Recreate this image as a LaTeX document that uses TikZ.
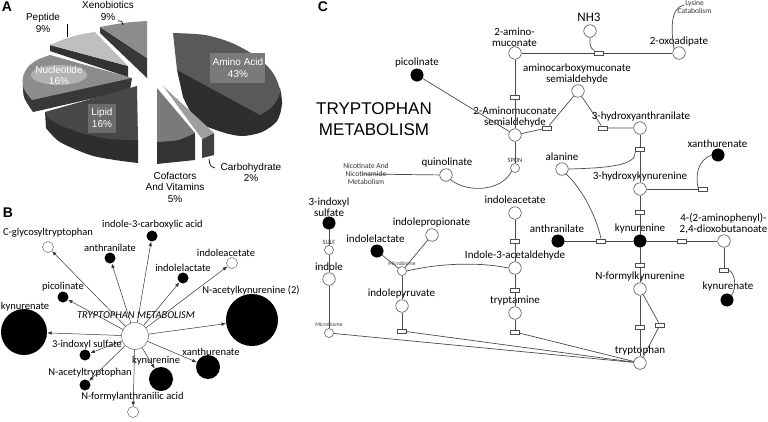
\documentclass[tikz,border=0pt]{standalone}
\usepackage{fontspec}
\setmainfont{Liberation Sans}
\newfontfamily\carlito{Carlito}
\usetikzlibrary{arrows.meta}
\begin{document}
\begin{tikzpicture}[x=1pt,y=1pt,
  oc/.style={circle,draw=black!70,fill=white,line width=0.6pt,minimum size=12.5pt,inner sep=0pt},
  fc/.style={circle,draw=black,fill=black,minimum size=12.5pt,inner sep=0pt},
  sc/.style={circle,draw=black!70,fill=white,line width=0.5pt,minimum size=9pt,inner sep=0pt},
  rx/.style={rectangle,draw=black!70,fill=white,line width=0.5pt,minimum width=9pt,minimum height=4.5pt,inner sep=0pt},
  ln/.style={draw=black!70,line width=0.7pt},
  lab/.style={font=\carlito\fontsize{11}{11}\selectfont,inner sep=0pt,align=center},
  tny/.style={font=\carlito\fontsize{5.5}{6}\selectfont,inner sep=0pt,align=center,text=black!80},
  blab/.style={font=\carlito\fontsize{10.5}{11}\selectfont,inner sep=0pt},
  bfc/.style={circle,fill=black,inner sep=0pt},
  boc/.style={circle,draw=black!60,fill=white,line width=0.5pt,inner sep=0pt},
  barr/.style={draw=black!80,line width=0.5pt,-{Latex[length=4.5pt,width=3.5pt]}},
  plab/.style={font=\fontsize{10}{11.5}\selectfont,inner sep=0pt,align=center},
  pwl/.style={plab,text=white},
  panel/.style={font=\bfseries\fontsize{14}{14}\selectfont,inner sep=0pt}
]
\useasboundingbox[fill=white] (0,0) rectangle (768,-421);

% ---------------- Panel A : pie ----------------
\node[panel] (pA) at (7,-7) {A};
% Amino acid
\fill[black!82] (177,-70) -- plot[smooth] coordinates {(183,-97) (197,-121) (222,-132) (242,-136) (262,-132) (277,-121) (282,-104) (280,-88)} -- cycle;
\fill[black!65] (177,-70) -- plot[smooth] coordinates {(173,-33) (205,-35) (232,-43) (257,-57) (273,-73) (280,-92) (272,-107) (260,-115)} -- cycle;
% Xenobiotics
\fill[black!78] (100,-27) -- (147,-58) -- (147,-78) -- (100,-33) -- cycle;
\fill[black!45] (147,-58) -- plot[smooth] coordinates {(100,-27) (123,-23) (147,-21)} -- cycle;
% Peptide
\fill[black!80] (50,-45) -- (128,-66) -- (128,-77) -- (50,-51) -- cycle;
\fill[black!25] (128,-66) -- plot[smooth] coordinates {(50,-45) (62,-40) (78,-35) (95,-32)} -- cycle;
% Nucleotide
\fill[black!78] plot[smooth] coordinates {(23,-80) (24,-97) (33,-112)} -- (130,-90) -- (132,-78) -- cycle;
\fill[black!45] (132,-78) -- plot[smooth] coordinates {(50,-55) (37,-60) (28,-67) (23,-77) (24,-89) (32,-100)} -- cycle;
\fill[black!30] (59,-75) ellipse [x radius=28pt, y radius=10pt];
% Lipid
\fill[black!82] (45,-112) -- plot[smooth] coordinates {(46,-128) (60,-142) (90,-155) (115,-160) (138,-163)} -- (138,-140) -- cycle;
\fill[black!72] (45,-112) -- (137,-86) -- plot[smooth] coordinates {(138,-140) (110,-139) (85,-134) (62,-126) (48,-118) (45,-112)} -- cycle;
\fill[black!58] (88,-104) rectangle (116,-133);
% Cofactors
\fill[black!80] (157,-142) -- (157,-164) -- (195,-160) -- (195,-133) -- cycle;
\fill[black!52] (157,-88) -- plot[smooth] coordinates {(195,-133) (178,-140) (157,-142)} -- cycle;
% Carbohydrate
\fill[black!75] (202,-139) -- (214,-133) -- (214,-155) -- (202,-158) -- cycle;
\fill[black!38] (163,-86) -- (214,-133) -- (202,-139) -- cycle;
\fill[black!52] (210,-53) rectangle (265,-83);
% labels
\node[pwl] (lAA) at (238,-68) {Amino Acid\\43\%};
\node[pwl] (lLip) at (102,-118) {Lipid\\16\%};
\node[pwl] (lNuc) at (59,-75.5) {Nucleotide\\16\%};
\node[plab] (lXen) at (108,-11) {Xenobiotics\\9\%};
\node[plab] (lPep) at (43,-23) {Peptide\\9\%};
\node[plab] (lCof) at (175,-187) {Cofactors\\And Vitamins\\5\%};
\node[plab] (lCar) at (251,-172.5) {Carbohydrate\\2\%};
\draw[black,line width=0.8pt] (67,-24) -- (67,-37);
\draw[black,line width=0.7pt] (118,-21) .. controls (122,-21) .. (123,-25);
\draw[black,line width=0.7pt] (209,-159) .. controls (210,-166) .. (215,-168);

% ---------------- Panel B ----------------
\node[panel] (pB) at (8,-213) {B};
\node[boc,minimum size=27pt] (bctr) at (135,-336) {};
\node[font=\carlito\itshape\fontsize{10.5}{11}\selectfont,inner sep=0pt] (bctrL) at (136,-315) {TRYPTOPHAN METABOLISM};
\node[boc,minimum size=11pt] (bcgly) at (48,-247) {};
\node[blab] (bcglyL) at (48,-233) {C-glycosyltryptophan};
\node[bfc,minimum size=11pt] (banth) at (110,-258) {};
\node[blab] (banthL) at (110,-248) {anthranilate};
\node[bfc,minimum size=11pt] (bi3ca) at (152,-236) {};
\node[blab] (bi3caL) at (152.5,-225) {indole-3-carboxylic acid};
\node[bfc,minimum size=11pt] (bilac) at (183,-278) {};
\node[blab] (bilacL) at (183,-268) {indolelactate};
\node[boc,minimum size=11pt] (biac) at (232,-263) {};
\node[blab] (biacL) at (226,-253) {indoleacetate};
\node[bfc,minimum size=11pt] (bpic) at (63,-297) {};
\node[blab] (bpicL) at (63,-287) {picolinate};
\node[bfc,minimum size=46pt] (bkyna) at (24,-332) {};
\node[blab] (bkynaL) at (25,-307) {kynurenate};
\node[bfc,minimum size=52pt] (bnak) at (252,-320) {};
\node[blab] (bnakL) at (251,-290) {N-acetylkynurenine (2)};
\node[bfc,minimum size=11pt] (bind) at (85,-355) {};
\node[blab] (bindL) at (87,-345) {3-indoxyl sulfate};
\node[bfc,minimum size=24pt] (bxan) at (208,-367) {};
\node[blab] (bxanL) at (211,-352) {xanthurenate};
\node[bfc,minimum size=24pt] (bkyn) at (161,-379) {};
\node[blab] (bkynL) at (156,-361) {kynurenine};
\node[bfc,minimum size=11pt] (bnat) at (85,-385) {};
\node[blab] (bnatL) at (90,-373) {N-acetyltryptophan};
\node[boc,minimum size=11pt] (bnfa) at (133,-412) {};
\node[blab] (bnfaL) at (132.5,-397) {N-formylanthranilic acid};
\foreach \t in {bcgly,banth,bi3ca,bilac,biac,bpic,bkyna,bnak,bind,bxan,bkyn,bnat,bnfa}
  \draw[barr] (bctr) -- (\t);

% ---------------- Panel C ----------------
\node[panel] (pC) at (323,-6.5) {C};
\node[font=\fontsize{17}{21}\selectfont,align=center,inner sep=0pt] (tmL) at (374,-119.5) {TRYPTOPHAN\\METABOLISM};
\node[oc] (ammuc) at (515,-53) {};
\node[lab] (ammucL) at (514.5,-37.5) {2-amino-\\muconate};
\node[oc] (nh3) at (590,-31) {};
\node[lab,font=\carlito\fontsize{13}{13}\selectfont] (nh3L) at (589,-17) {NH3};
\node[rx] (r1) at (599,-53) {};
\node[oc] (oxoad) at (679,-53) {};
\node[lab] (oxoadL) at (679,-42) {2-oxoadipate};
\node[tny,font=\carlito\fontsize{7.5}{8}\selectfont] (lys) at (694.5,-7) {Lysine\\Catabolism};
\coordinate (lysend) at (684,-5);
\node[rx] (r2) at (515,-97) {};
\node[oc] (amsa) at (515,-135) {};
\node[lab] (amsaL) at (515,-117.5) {2-Aminomuconate\\semialdehyde};
\node[fc] (pic) at (417,-75) {};
\node[lab] (picL) at (417,-63) {picolinate};
\node[rx] (r3) at (547,-128) {};
\node[oc] (acms) at (578,-91) {};
\node[lab] (acmsL) at (577,-74.5) {aminocarboxymuconate\\semialdehyde};
\node[rx] (r4) at (603,-128) {};
\node[oc] (hant) at (640,-128) {};
\node[lab] (hantL) at (641,-117) {3-hydroxyanthranilate};
\node[rx] (r5) at (640,-149) {};
\node[oc] (ala) at (562,-169) {};
\node[lab] (alaL) at (562,-157) {alanine};
\node[oc] (hk) at (640,-189) {};
\node[lab] (hkL) at (640,-177) {3-hydroxykynurenine};
\node[rx] (r8) at (703,-189) {};
\node[fc] (xan) at (718,-155) {};
\node[lab] (xanL) at (717.5,-144) {xanthurenate};
\node[rx] (r6) at (640,-212) {};
\node[fc] (kyn) at (640,-241) {};
\node[lab] (kynL) at (640,-229) {kynurenine};
\node[fc] (anth) at (558,-241) {};
\node[lab] (anthL) at (557,-229) {anthranilate};
\node[rx] (r7) at (601,-241) {};
\node[rx] (r9) at (682,-241) {};
\node[oc] (aph) at (724,-241) {};
\node[lab] (aphL) at (723.5,-224) {4-(2-aminophenyl)-\\2,4-dioxobutanoate};
\node[rx] (r10) at (724,-270) {};
\node[fc] (kyna) at (727,-300) {};
\node[lab] (kynaL) at (728,-287) {kynurenate};
\node[rx] (r11) at (640,-265) {};
\node[oc] (nfk) at (640,-289) {};
\node[lab] (nfkL) at (640,-277) {N-formylkynurenine};
\node[rx] (r12) at (640,-327) {};
\node[rx] (r13) at (660,-325) {};
\node[oc] (trp) at (640,-363) {};
\node[lab] (trpL) at (640,-351) {tryptophan};
\node[oc] (quin) at (446,-175) {};
\node[lab] (quinL) at (447,-163) {quinolinate};
\node[sc] (spon) at (515,-168) {};
\node[tny,font=\carlito\fontsize{6.5}{7}\selectfont] (sponL) at (515,-160) {SPON};
\node[tny,font=\carlito\fontsize{7.5}{8}\selectfont] (nicL) at (366,-174) {Nicotinate And\\Nicotinamide\\Metabolism};
\coordinate (nicE) at (362,-174);
\node[oc] (iac) at (515,-213) {};
\node[lab] (iacL) at (515,-200) {indoleacetate};
\node[rx] (r16) at (515,-241) {};
\node[oc] (i3a) at (515,-268) {};
\node[lab] (i3aL) at (515,-256) {Indole-3-acetaldehyde};
\node[rx] (r17) at (515,-290) {};
\node[oc] (tram) at (515,-313) {};
\node[lab] (tramL) at (515,-301) {tryptamine};
\node[rx] (r15) at (515,-332) {};
\node[sc] (mic1) at (402,-271) {};
\node[tny] (mic1L) at (402,-264) {Microbiome};
\node[fc] (ilac) at (377,-251) {};
\node[lab] (ilacL) at (375.5,-239) {indolelactate};
\node[oc] (ipro) at (432,-235) {};
\node[lab] (iproL) at (431.5,-223) {indolepropionate};
\node[oc] (ipyr) at (402,-306) {};
\node[lab] (ipyrL) at (401.5,-294) {indolepyruvate};
\node[rx] (r14) at (402,-331) {};
\node[fc] (isul) at (329,-223) {};
\node[lab] (isulL) at (329,-207) {3-indoxyl\\sulfate};
\node[sc] (sulf) at (329,-250) {};
\node[tny,font=\carlito\fontsize{6.5}{7}\selectfont] (sulfL) at (329,-242) {SULF};
\node[oc] (indo) at (329,-279) {};
\node[lab] (indoL) at (329,-267) {indole};
\node[sc] (mic2) at (329,-333) {};
\node[tny] (mic2L) at (329,-325) {Microbiome};

\draw[ln] (ammuc) -- (r1) -- (oxoad);
\draw[ln] (nh3.south) .. controls (590,-47) .. (r1.north west);
\draw[ln] (oxoad.140) .. controls (671,-30) and (670,-8) .. (lysend);
\draw[ln] (ammuc) -- (r2) -- (amsa);
\draw[ln] (pic) -- (amsa);
\draw[ln] (amsa) -- (r3) -- (acms);
\draw[ln] (acms) -- (r4) -- (hant);
\draw[ln] (hant) -- (r5) -- (hk);
\draw[ln] (r5.south west) .. controls (637,-165) and (610,-168) .. (ala.east);
\draw[ln] (ala.-50) .. controls (585,-192) and (597,-220) .. (r7.north);
\draw[ln] (hk) -- (r6) -- (kyn);
\draw[ln] (hk) -- (r8);
\draw[ln] (r8.west) .. controls (695,-175) and (698,-160) .. (xan.west);
\draw[ln] (anth) -- (r7) -- (kyn);
\draw[ln] (kyn) -- (r9) -- (aph);
\draw[ln] (aph) -- (r10);
\draw[ln] (r10.east) .. controls (735,-273) and (737,-287) .. (kyna.north east);
\draw[ln] (kyn) -- (r11) -- (nfk);
\draw[ln] (nfk) -- (r12) -- (trp);
\draw[ln] (nfk) -- (r13) -- (trp);
\draw[ln] (amsa) -- (spon);
\draw[ln] (quin.-45) .. controls (465,-192) and (500,-193) .. (spon.-135);
\draw[ln] (quin) -- (nicE);
\draw[ln] (iac) -- (r16) -- (i3a) -- (r17) -- (tram) -- (r15);
\draw[ln] (r15) -- (trp);
\draw[ln] (r14) -- (trp);
\draw[ln] (mic2) -- (trp);
\draw[ln] (mic1.east) .. controls (440,-263) and (480,-262) .. (i3a.west);
\draw[ln] (ilac) -- (mic1);
\draw[ln] (ipro) -- (mic1);
\draw[ln] (mic1) -- (ipyr) -- (r14);
\draw[ln] (isul) -- (sulf) -- (indo) -- (mic2);
\end{tikzpicture}
\end{document}
